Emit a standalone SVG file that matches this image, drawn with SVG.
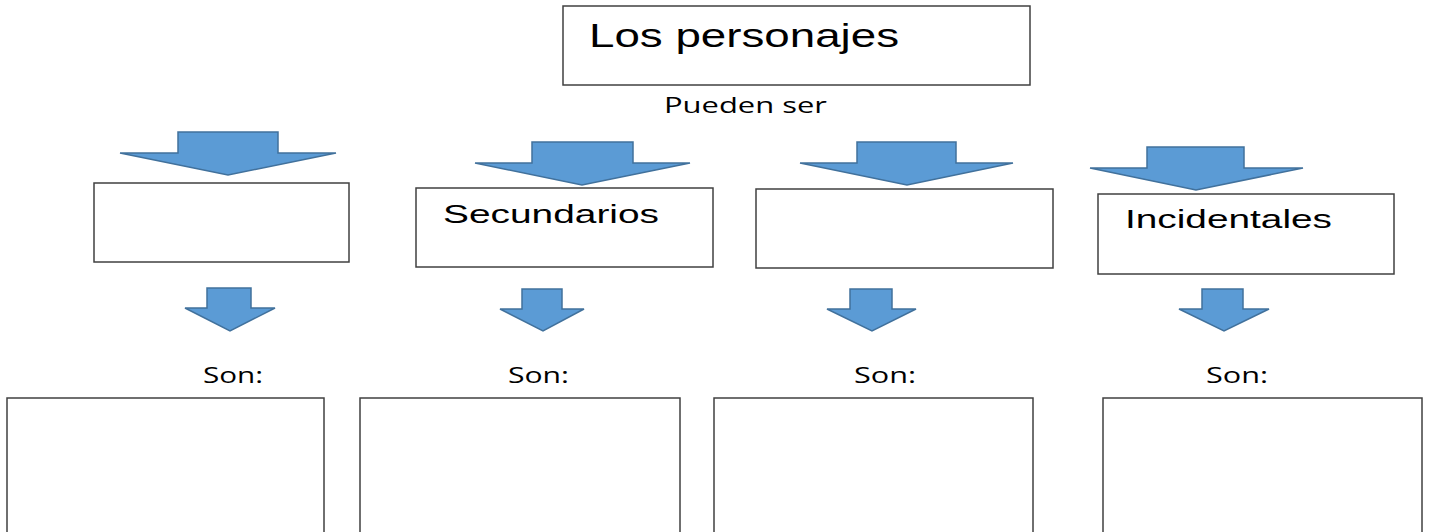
<svg xmlns="http://www.w3.org/2000/svg" width="1432" height="532" viewBox="0 0 1432 532">
<style>
.box{fill:#fff;stroke:#404040;stroke-width:1.5}
.arr{fill:#5B9BD5;stroke:#41719C;stroke-width:1.5;stroke-linejoin:miter}
.t1{font-family:"Liberation Sans",Arial,sans-serif;fill:#000}
.t2{font-family:"Open Sans","Liberation Sans",sans-serif;fill:#000}
</style>
<rect width="1432" height="532" fill="#fff"/>
<g id="connectors">
<polygon class="arr" points="178,132 278,132 278,153 336,153 228,175 120,153 178,153"/>
<polygon class="arr" points="532,142 633,142 633,163 690,163 582,185 475,163 532,163"/>
<polygon class="arr" points="857,142 956,142 956,163 1013,163 907,185 800,163 857,163"/>
<polygon class="arr" points="1147,147 1244,147 1244,168 1303,168 1196,190 1090,168 1147,168"/>
<polygon class="arr" points="207,288 251,288 251,308 275,308 230,331 185,308 207,308"/>
<polygon class="arr" points="522,289 562,289 562,309 584,309 543,331 500,309 522,309"/>
<polygon class="arr" points="850,289 892,289 892,309 916,309 872,331 827,309 850,309"/>
<polygon class="arr" points="1202,289 1243,289 1243,309 1269,309 1224,331 1179,309 1202,309"/>
</g>
<g id="root">
<rect class="box" x="563" y="6" width="467" height="79"/>
<text class="t1" x="589" y="47" font-size="34" textLength="310" lengthAdjust="spacingAndGlyphs">Los personajes</text>
</g>
<g id="label-pueden">
<text class="t2" x="664" y="113" font-size="21" textLength="163" lengthAdjust="spacingAndGlyphs">Pueden ser</text>
</g>
<g id="type1"><rect class="box" x="94" y="183" width="255" height="79"/></g>
<g id="type2"><rect class="box" x="416" y="188" width="297" height="79"/>
<text class="t1" x="443" y="223" font-size="25" textLength="216" lengthAdjust="spacingAndGlyphs">Secundarios</text></g>
<g id="type3"><rect class="box" x="756" y="189" width="297" height="79"/></g>
<g id="type4"><rect class="box" x="1098" y="194" width="296" height="80"/>
<text class="t1" x="1125" y="228" font-size="25" textLength="207" lengthAdjust="spacingAndGlyphs">Incidentales</text></g>
<g id="son-labels">
<text class="t2" x="203" y="383" font-size="21" textLength="60" lengthAdjust="spacingAndGlyphs">Son:</text>
<text class="t2" x="508" y="383" font-size="21" textLength="61" lengthAdjust="spacingAndGlyphs">Son:</text>
<text class="t2" x="854" y="383" font-size="21" textLength="62" lengthAdjust="spacingAndGlyphs">Son:</text>
<text class="t2" x="1206" y="383" font-size="21" textLength="62" lengthAdjust="spacingAndGlyphs">Son:</text>
</g>
<g id="desc1"><rect class="box" x="7" y="398" width="317" height="140"/></g>
<g id="desc2"><rect class="box" x="360" y="398" width="320" height="140"/></g>
<g id="desc3"><rect class="box" x="714" y="398" width="319" height="140"/></g>
<g id="desc4"><rect class="box" x="1103" y="398" width="319" height="140"/></g>
</svg>
